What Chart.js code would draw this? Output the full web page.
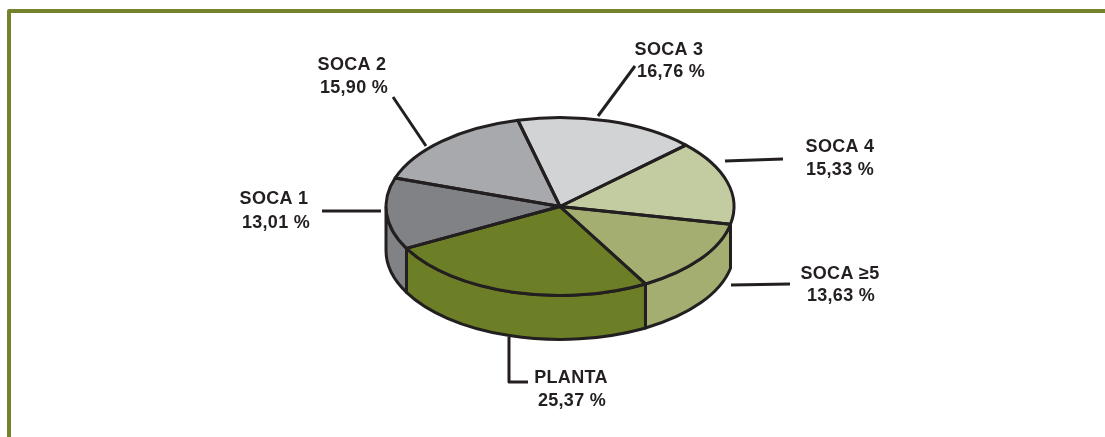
<!DOCTYPE html>
<html>
<head>
<meta charset="utf-8">
<script src="https://cdn.jsdelivr.net/npm/chart.js@4"></script>
<style>
  html, body { margin: 0; padding: 0; background: #fff; overflow: hidden; }
  #wrap { position: relative; width: 1105px; height: 437px; overflow: hidden; }
  #frame { position: absolute; left: 7px; top: 9px; width: 1200px; height: 600px;
           border: 4px solid #74832b; border-radius: 2px; }
  canvas { position: absolute; left: 0; top: 0; }
</style>
</head>
<body>
<div id="wrap">
  <div id="frame"></div>
  <canvas id="pie" width="1105" height="437"></canvas>
</div>
<script>
const categories = ['SOCA 3', 'SOCA 4', 'SOCA ≥5', 'PLANTA', 'SOCA 1', 'SOCA 2'];
const values = [16.76, 15.33, 13.63, 25.37, 13.01, 15.90];
const colors = ['#d1d3d4', '#c3cca0', '#a3ae70', '#6d7f26', '#808285', '#a7a9ac'];

// label placement and leader lines, same order as categories
const nameAt = [[669, 50], [840, 147], [840, 274], [571, 378], [274, 199], [352, 65]];
const valueAt = [[671, 72], [840, 170], [841, 296], [572, 401], [276, 223], [354, 88]];
const leaders = [
  [[635, 66], [598, 116]],
  [[725, 161], [783, 159]],
  [[731, 285], [790, 284]],
  [[509, 337], [509, 382], [528, 382]],
  [[322, 211], [381, 211]],
  [[393, 97], [426, 146]]
];

const squash = 0.511;  // flattening of the pie
const depth = 44;      // height of the side wall
const ink = '#231f20';

const pie3d = {
  id: 'pie3d',
  beforeDatasetsDraw(chart) {
    const ctx = chart.ctx;
    const arcs = chart.getDatasetMeta(0).data;
    ctx.save();
    ctx.lineWidth = 3;
    ctx.lineJoin = 'round';
    ctx.strokeStyle = ink;
    // side wall, only the slices facing the viewer
    arcs.forEach((a, i) => {
      if (a.startAngle < 0 || a.startAngle >= Math.PI) return;
      const end = Math.min(a.endAngle, Math.PI);
      const ry = a.outerRadius * squash;
      ctx.beginPath();
      ctx.ellipse(a.x, a.y, a.outerRadius, ry, 0, a.startAngle, end);
      ctx.ellipse(a.x, a.y + depth, a.outerRadius, ry, 0, end, a.startAngle, true);
      ctx.closePath();
      ctx.fillStyle = colors[i];
      ctx.fill();
      ctx.stroke();
    });
    ctx.restore();
    // slices themselves are drawn flattened
    const c = arcs[0];
    ctx.save();
    ctx.translate(0, c.y);
    ctx.scale(1, squash);
    ctx.translate(0, -c.y);
  },
  afterDatasetsDraw(chart) {
    const ctx = chart.ctx;
    ctx.restore();
    ctx.save();
    ctx.lineWidth = 3;
    ctx.lineJoin = 'round';
    ctx.strokeStyle = ink;
    chart.getDatasetMeta(0).data.forEach(a => {
      ctx.beginPath();
      ctx.moveTo(a.x, a.y);
      ctx.ellipse(a.x, a.y, a.outerRadius, a.outerRadius * squash, 0, a.startAngle, a.endAngle);
      ctx.closePath();
      ctx.stroke();
    });
    // leaders
    leaders.forEach(pts => {
      ctx.beginPath();
      pts.forEach((p, j) => j ? ctx.lineTo(p[0], p[1]) : ctx.moveTo(p[0], p[1]));
      ctx.stroke();
    });
    // labels
    ctx.fillStyle = ink;
    ctx.font = 'bold 18px "Liberation Sans"';
    ctx.letterSpacing = '0.3px';
    ctx.textAlign = 'center';
    ctx.textBaseline = 'middle';
    categories.forEach((name, i) => {
      ctx.fillText(name, nameAt[i][0], nameAt[i][1]);
      ctx.fillText(values[i].toFixed(2).replace('.', ',') + ' %', valueAt[i][0], valueAt[i][1]);
    });
    ctx.restore();
  }
};

new Chart(document.getElementById('pie'), {
  type: 'pie',
  data: {
    labels: categories,
    datasets: [{
      data: values,
      backgroundColor: colors,
      borderWidth: 0,
      clip: false
    }]
  },
  options: {
    responsive: false,
    animation: false,
    rotation: -14,
    layout: { padding: { left: 386, right: 371, top: 32.5, bottom: 56.5 } },
    plugins: { legend: { display: false }, tooltip: { enabled: false } }
  },
  plugins: [pie3d]
});
</script>
</body>
</html>
